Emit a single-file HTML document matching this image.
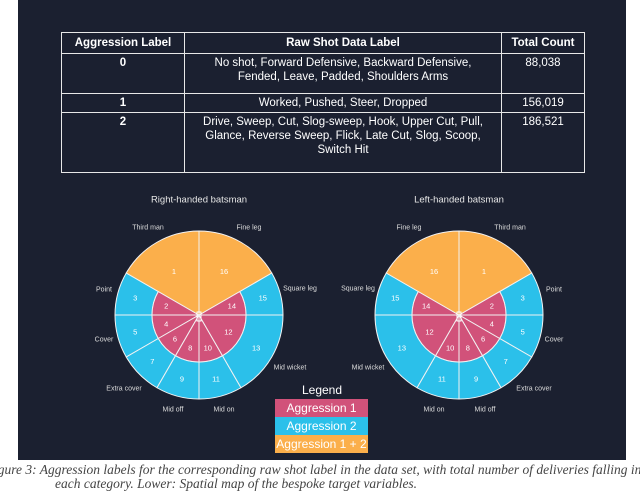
<!DOCTYPE html>
<html><head><meta charset="utf-8"><style>
body{margin:0;width:640px;height:484px;overflow:hidden;background:#fff;position:relative;font-family:"Liberation Sans",sans-serif}
#panel{position:absolute;left:18px;top:0;width:608px;height:460px;background:#1b2030}
table{position:absolute;left:61px;top:32px;width:524px;border-collapse:collapse;color:#fff;font-size:11.5px;line-height:14px}
td,th{border:1.5px solid #e8e8e8;text-align:center;vertical-align:top;padding:2px 2px}
th{font-weight:bold;padding:3px 2px}
.cap{position:absolute;font-family:"Liberation Serif",serif;font-style:italic;font-size:13.5px;color:#444;line-height:15px;white-space:nowrap}
</style></head><body>
<div id="panel"></div>
<table>
<tr style="height:20px"><th style="width:118px">Aggression Label</th><th>Raw Shot Data Label</th><th style="width:78px">Total Count</th></tr>
<tr style="height:40px"><td><b>0</b></td><td>No shot, Forward Defensive, Backward Defensive,<br>Fended, Leave, Padded, Shoulders Arms</td><td>88,038</td></tr>
<tr style="height:19px"><td><b>1</b></td><td>Worked, Pushed, Steer, Dropped</td><td>156,019</td></tr>
<tr style="height:60px"><td><b>2</b></td><td>Drive, Sweep, Cut, Slog-sweep, Hook, Upper Cut, Pull,<br>Glance, Reverse Sweep, Flick, Late Cut, Slog, Scoop,<br>Switch Hit</td><td>186,521</td></tr>
</table>
<svg id="chart" width="640" height="484" style="position:absolute;left:0;top:0"></svg>
<div class="cap" style="left:-6px;top:462px">igure 3: Aggression labels for the corresponding raw shot label in the data set, with total number of deliveries falling in</div>
<div class="cap" style="left:55px;top:476px">each category. Lower: Spatial map of the bespoke target variables.</div>
<script>
// segments for right-handed batsman (angles in degrees, math convention, 0=east, ccw)
const innerNums=[2,4,6,8,10,12,14];
const outerNums=[3,5,7,9,11,13,15];
const ringStart=[150,180,210,240,270,300,0];
const ringEnd=[180,210,240,270,300,360,30];
const topNums=[1,16];
const topStart=[90,30];
const topEnd=[150,90];
const fieldNames=["Third man","Fine leg","Square leg","Point","Cover","Mid wicket","Extra cover","Mid off","Mid on"];
// label offsets relative to map centre (right-handed)
const fieldDX=[-51,50,101,-95,-95,91,-75,-26,25];
const fieldDY=[-87,-87,-26,-25,25,53,74,95,95];
const legendLabels=["Aggression 1","Aggression 2","Aggression 1 + 2"];
const PINK="#d1527a",BLUE="#2bc0ea",ORANGE="#fbaf4b";
const svg=document.getElementById('chart');
const NS="http://www.w3.org/2000/svg";
function mk(t,a,p){const e=document.createElementNS(NS,t);for(const k in a)e.setAttribute(k,a[k]);(p||svg).appendChild(e);return e;}
const R=84,r=47;
function pt(cx,cy,rad,deg,m){const a=deg*Math.PI/180;return [cx+m*rad*Math.cos(a),cy-rad*Math.sin(a)];}
function sector(g,cx,cy,r0,r1,a0,a1,m,fill){
  const p1=pt(cx,cy,r1,a0,m),p2=pt(cx,cy,r1,a1,m),p3=pt(cx,cy,r0,a1,m),p4=pt(cx,cy,r0,a0,m);
  const large=(a1-a0)>180?1:0;const s1=m>0?0:1;const s0=m>0?1:0;
  let d=`M${p1[0]},${p1[1]} A${r1},${r1} 0 ${large} ${s1} ${p2[0]},${p2[1]} `;
  if(r0>0)d+=`L${p3[0]},${p3[1]} A${r0},${r0} 0 ${large} ${s0} ${p4[0]},${p4[1]} Z`;else d+=`L${cx},${cy} Z`;
  return mk('path',{d:d,fill:fill,stroke:'#f2f2f2','stroke-width':1},g);
}
function txt(g,x,y,s,size,fill){const t=mk('text',{x:x,y:y,'font-size':size,fill:fill||'#fff','text-anchor':'middle','dominant-baseline':'central','font-family':'"Liberation Sans",sans-serif'},g);t.textContent=s;return t;}
function drawMap(cx,cy,m,title,name){
  const g=mk('g',{});
  
  
  const tt=txt(g,cx,200,title,9.5,'#e6e6e6');
  
  
  for(let i=0;i<ringStart.length;i++){
    const o=sector(g,cx,cy,r,R,ringStart[i],ringEnd[i],m,BLUE);
    
    
    const n=sector(g,cx,cy,0,r,ringStart[i],ringEnd[i],m,PINK);
    
    
    const mid=(ringStart[i]+ringEnd[i])/2;
    const po=pt(cx,cy,66,mid,m);txt(g,po[0],po[1],outerNums[i],7.5);
    const pi=pt(cx,cy,34,mid,m);txt(g,pi[0],pi[1],innerNums[i],7.5);
  }
  for(let i=0;i<topNums.length;i++){
    const s=sector(g,cx,cy,0,R,topStart[i],topEnd[i],m,ORANGE);
    
    
    const p=pt(cx,cy,50,(topStart[i]+topEnd[i])/2,m);txt(g,p[0],p[1],topNums[i],7.5);
  }
  const st=mk('rect',{x:cx-2,y:cy-3,width:4,height:9,fill:'none',stroke:'#fff','stroke-width':1},g);
  
  
  for(let i=0;i<fieldNames.length;i++){
    const l=txt(g,cx+m*fieldDX[i],cy+fieldDY[i],fieldNames[i],7,'#dcdcdc');
    
    
  }
}
drawMap(199,315,1,"Right-handed batsman","right-handed-map");
drawMap(459,315,-1,"Left-handed batsman","left-handed-map");
const lg=mk('g',{});


const lt=txt(lg,322,390,"Legend",12,'#fff');


const cols=[PINK,BLUE,ORANGE];
for(let i=0;i<legendLabels.length;i++){
  const rc=mk('rect',{x:275,y:399+i*18,width:93,height:18,fill:cols[i]},lg);
  
  
  txt(lg,321.5,408+i*18,legendLabels[i],12,'#fff');
}
</script>
</body></html>
